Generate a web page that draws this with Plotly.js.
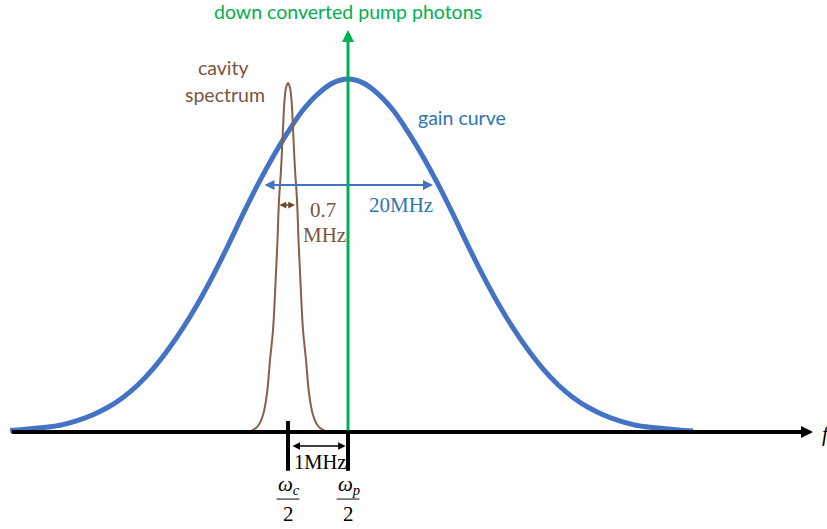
<!DOCTYPE html>
<html>
<head>
<meta charset="utf-8">
<script src="https://cdn.plot.ly/plotly-3.0.1.min.js"></script>
<style>
  html, body { margin: 0; padding: 0; background: #ffffff; }
  #chart { width: 827px; height: 529px; }
</style>
</head>
<body>
<div id="chart"></div>
<script>
// Detuning is measured from the pump half-frequency (one unit = the 1 MHz spacing
// between the cavity line and the pump line); levels are relative to the gain peak.
const gainDetuning = [-5.63, -5.50, -5.25, -5.00, -4.75, -4.50, -4.25, -4.00, -3.75, -3.50,
  -3.25, -3.00, -2.75, -2.50, -2.25, -2.00, -1.75, -1.50, -1.25, -1.00, -0.75, -0.50, -0.25,
  0, 0.25, 0.50, 0.75, 1.00, 1.25, 1.50, 1.75, 2.00, 2.25, 2.50, 2.75, 3.00, 3.25, 3.50,
  3.75, 4.00, 4.25, 4.50, 4.75, 5.00, 5.25, 5.50, 5.75];
const gainLevel = [0.004, 0.006, 0.010, 0.014, 0.021, 0.033, 0.049, 0.070, 0.098, 0.134,
  0.179, 0.233, 0.295, 0.365, 0.443, 0.528, 0.617, 0.702, 0.780, 0.850, 0.912, 0.958, 0.989,
  1.000, 0.989, 0.958, 0.912, 0.850, 0.780, 0.702, 0.617, 0.528, 0.443, 0.365, 0.295, 0.233,
  0.179, 0.134, 0.098, 0.070, 0.049, 0.033, 0.021, 0.014, 0.010, 0.006, 0.003];

const cavityDetuning = [-1.667, -1.583, -1.500, -1.417, -1.350, -1.300, -1.250, -1.208, -1.175,
  -1.150, -1.117, -1.100, -1.083, -1.058, -1.033, -1.000, -0.967, -0.942, -0.917, -0.900, -0.883,
  -0.850, -0.825, -0.792, -0.750, -0.700, -0.650, -0.583, -0.500, -0.417, -0.333];
const cavityLevel = [0, 0.006, 0.017, 0.048, 0.110, 0.204, 0.289, 0.422, 0.544, 0.657, 0.742,
  0.799, 0.861, 0.941, 0.975, 0.989, 0.975, 0.941, 0.861, 0.799, 0.742, 0.657, 0.544, 0.422,
  0.289, 0.204, 0.110, 0.048, 0.017, 0.006, 0];

// Positions on the frequency axis: cavity line and pump half-frequency
const markerDetuning = [-1, 0];
const markerLabels = ['<i>ω<sub>c</sub></i>', '<i>ω<sub>p</sub></i>'];

// Width markers: gain curve span, cavity linewidth, cavity-pump spacing
const gainSpan = [-1.417, 1.417];
const gainSpanLevel = 0.700;
const cavitySpan = [-1.167, -0.883];
const cavitySpanLevel = 0.643;
const spacingLevel = -0.040;
const pumpArrowTop = 1.139;
const axisStart = -5.63;
const axisEnd = 7.75;

const BLUE = '#4472C4';
const BLUE_TEXT = '#2E75B6';
const BROWN = '#8A5F43';
const BROWN_TEXT = '#7A5540';
const GREEN = '#00B050';
const SANS = 'Lato, "Open Sans", sans-serif';
const SERIF = '"Liberation Serif", "DejaVu Serif", serif';

function arrow(x, y, ax, ay, color, width, size, both) {
  return {
    x: x, y: y, ax: ax, ay: ay, xref: 'x', yref: 'y', axref: 'x', ayref: 'y',
    text: '', showarrow: true, arrowhead: 2, arrowsize: size, arrowwidth: width,
    arrowcolor: color, arrowside: both ? 'end+start' : 'end',
    startarrowhead: 2, startarrowsize: size, standoff: 0, startstandoff: 0
  };
}

function label(text, x, y, color, family, size, anchor) {
  return {
    x: x, y: y, xref: 'x', yref: 'y', text: text, showarrow: false,
    xanchor: anchor || 'center', yanchor: 'middle',
    font: { family: family, size: size, color: color }
  };
}

const traces = [
  {
    x: gainDetuning, y: gainLevel, type: 'scatter', mode: 'lines',
    line: { color: BLUE, width: 5, shape: 'spline', smoothing: 1 },
    hoverinfo: 'skip'
  },
  {
    x: cavityDetuning, y: cavityLevel, type: 'scatter', mode: 'lines',
    line: { color: BROWN, width: 2, shape: 'spline', smoothing: 1 },
    hoverinfo: 'skip'
  }
];

const shapes = [];
// tick marks below the frequency axis
shapes.push({ type: 'line', xref: 'x', yref: 'y', x0: markerDetuning[0], x1: markerDetuning[0],
  y0: 0.031, y1: -0.110, line: { color: '#000000', width: 4 } });
shapes.push({ type: 'line', xref: 'x', yref: 'y', x0: markerDetuning[1], x1: markerDetuning[1],
  y0: 0, y1: -0.110, line: { color: '#000000', width: 4 } });
// fraction bars under ω_c and ω_p
markerDetuning.forEach(function (m) {
  shapes.push({ type: 'line', xref: 'x', yref: 'y', x0: m - 0.19, x1: m + 0.19,
    y0: -0.190, y1: -0.190, line: { color: '#404040', width: 1.3 } });
});

const annotations = [
  arrow(gainSpan[1], gainSpanLevel, gainSpan[0], gainSpanLevel, BLUE, 2, 1, true),
  arrow(cavitySpan[1], cavitySpanLevel, cavitySpan[0], cavitySpanLevel, '#6B4630', 1.5, 0.9, true),
  arrow(markerDetuning[1] - 0.04, spacingLevel, markerDetuning[0] + 0.05, spacingLevel, '#000000', 1.5, 1, true),
  arrow(axisEnd, 0, axisStart, 0, '#000000', 4, 0.6, false),
  arrow(0, pumpArrowTop, 0, 0, GREEN, 3, 0.8, false),

  label('down converted pump photons', 0, 1.190, GREEN, SANS, 19.5),
  label('cavity', -2.07, 1.032, BROWN_TEXT, SANS, 19.5),
  label('spectrum', -2.05, 0.957, BROWN_TEXT, SANS, 19.5),
  label('gain curve', 1.90, 0.891, BLUE_TEXT, SANS, 19.5),
  label('20MHz', 0.885, 0.643, BLUE_TEXT, SERIF, 21),
  label('0.7', -0.42, 0.630, BROWN_TEXT, SERIF, 21),
  label('MHz', -0.40, 0.557, BROWN_TEXT, SERIF, 21),
  label('1MHz', -0.475, -0.085, '#000000', SERIF, 20.5),
  label('<i>f</i>', 7.86, -0.006, '#000000', SERIF, 21, 'left')
];

markerDetuning.forEach(function (m, i) {
  annotations.push(label(markerLabels[i], m + 0.02, -0.150, '#000000', SERIF, 21));
  annotations.push(label('2', m, -0.233, '#000000', SERIF, 21));
});

const layout = {
  width: 827, height: 529,
  margin: { l: 0, r: 0, t: 0, b: 0, pad: 0 },
  paper_bgcolor: '#ffffff', plot_bgcolor: '#ffffff',
  showlegend: false,
  xaxis: { range: [-5.8, 7.983], visible: false, fixedrange: true },
  yaxis: { range: [-0.2748, 1.2238], visible: false, fixedrange: true },
  shapes: shapes,
  annotations: annotations
};

Plotly.newPlot('chart', traces, layout, { displayModeBar: false, staticPlot: true });
</script>
</body>
</html>
